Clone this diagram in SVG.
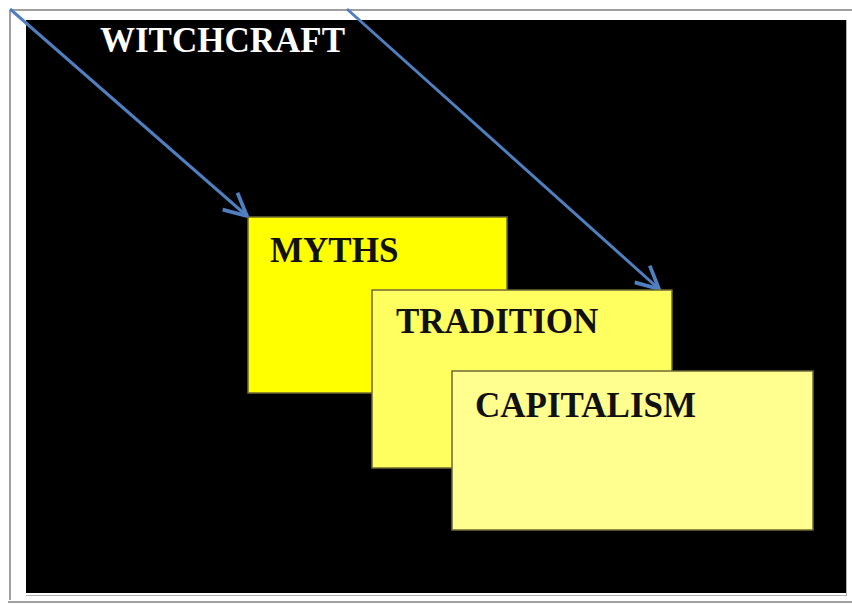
<svg xmlns="http://www.w3.org/2000/svg" width="852" height="605" viewBox="0 0 852 605">
  <defs>
    <style>
      .frame { fill: none; stroke: #a0a0a0; stroke-width: 2; }
      .thin { fill: none; stroke: #b0b0b0; stroke-width: 1; }
      .box { stroke: #6e6a34; stroke-width: 1.5; }
      .lbl { font-family: "Liberation Serif", "Times New Roman", serif; font-weight: bold; font-size: 35px; fill: #111; }
      .title { font-family: "Liberation Serif", "Times New Roman", serif; font-weight: bold; font-size: 35px; fill: #ffffff; }
      .conn { fill: none; stroke: #4f7fbf; stroke-width: 3; }
    </style>
    <marker id="arr" markerUnits="userSpaceOnUse" markerWidth="30" markerHeight="30" refX="20" refY="10" orient="auto" viewBox="0 0 24 20">
      <polyline points="2,1 20,10 2,19" fill="none" stroke="#4f7fbf" stroke-width="3" stroke-linejoin="miter"/>
    </marker>
  </defs>
  <rect x="0" y="0" width="852" height="605" fill="#ffffff"/>
  <line class="frame" x1="10" y1="10" x2="852" y2="10"/>
  <line class="frame" x1="10" y1="10" x2="10" y2="600"/>
  <line class="frame" x1="8" y1="602" x2="852" y2="602"/>
  <rect x="26" y="20" width="820" height="573" fill="#000000"/>
  <line class="thin" x1="846.5" y1="20" x2="846.5" y2="596"/>
  <line class="thin" x1="26" y1="595.5" x2="847" y2="595.5"/>

  <g id="witchcraft">
    <text class="title" x="100" y="52">WITCHCRAFT</text>
  </g>

  <g id="connectors">
    <line class="conn" x1="10" y1="9" x2="247" y2="216" marker-end="url(#arr)"/>
    <line class="conn" x1="347" y1="9" x2="659" y2="289" marker-end="url(#arr)"/>
  </g>

  <g id="myths">
    <rect class="box" x="248" y="217" width="259" height="176" fill="#ffff00"/>
    <text class="lbl" x="270" y="262">MYTHS</text>
  </g>
  <g id="tradition">
    <rect class="box" x="372" y="290" width="300" height="178" fill="#ffff60"/>
    <text class="lbl" x="396" y="333">TRADITION</text>
  </g>
  <g id="capitalism">
    <rect class="box" x="452" y="371" width="361" height="159" fill="#ffff90"/>
    <text class="lbl" x="475" y="417">CAPITALISM</text>
  </g>
</svg>
